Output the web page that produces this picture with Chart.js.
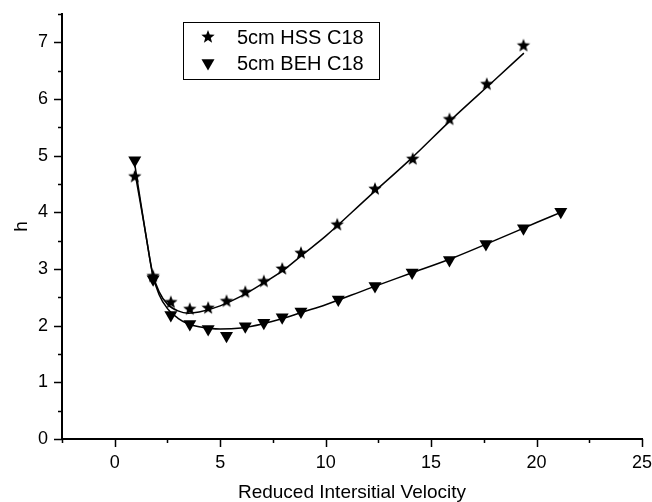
<!DOCTYPE html>
<html>
<head>
<meta charset="utf-8">
<script src="https://cdn.jsdelivr.net/npm/chart.js@4/dist/chart.umd.min.js"></script>
<style>
  html, body { margin: 0; padding: 0; background: #fff; }
  #wrap { width: 652px; height: 502px; }
</style>
</head>
<body>
<div id="wrap"><canvas id="c"></canvas></div>
<script>
// measured points (reduced velocity vs plate height h)
const velHSS = [0.95, 1.82, 2.66, 3.56, 4.43, 5.3, 6.19, 7.07, 7.94, 8.83, 10.55, 12.34, 14.13, 15.87, 17.64, 19.38];
const hHSS   = [4.63, 2.87, 2.41, 2.29, 2.31, 2.43, 2.59, 2.78, 3.0, 3.28, 3.78, 4.41, 4.94, 5.64, 6.26, 6.94];
const velBEH = [0.95, 1.82, 2.66, 3.56, 4.43, 5.3, 6.19, 7.07, 7.94, 8.83, 10.6, 12.34, 14.1, 15.87, 17.6, 19.38, 21.15];
const hBEH   = [4.92, 2.82, 2.19, 2.03, 1.94, 1.82, 1.99, 2.05, 2.15, 2.25, 2.46, 2.70, 2.94, 3.16, 3.44, 3.72, 4.01];

// fitted curves
const fitVelHSS = [0.95, 1.2, 1.5, 1.8, 2.1, 2.5, 3.0, 3.5, 4.0, 5, 6, 7, 8, 9, 10, 12, 14, 16, 18, 19.4];
const fitHSS    = [4.72, 4.2, 3.55, 2.92, 2.6, 2.38, 2.26, 2.22, 2.24, 2.35, 2.52, 2.74, 2.98, 3.28, 3.58, 4.26, 4.93, 5.65, 6.33, 6.81];
const fitVelBEH = [0.95, 1.2, 1.5, 1.8, 2.1, 2.5, 3.0, 3.5, 4.0, 5, 6, 7, 8, 9, 10, 12, 14, 16, 18, 20, 21.15];
const fitBEH    = [4.85, 4.25, 3.55, 2.9, 2.55, 2.3, 2.13, 2.03, 1.98, 1.94, 1.96, 2.03, 2.13, 2.25, 2.37, 2.65, 2.92, 3.19, 3.5, 3.82, 4.0];

const xTicks = [0, 5, 10, 15, 20, 25];
const yTicks = [0, 1, 2, 3, 4, 5, 6, 7];
const seriesNames = ['5cm HSS C18', '5cm BEH C18'];

const FONT = 'Liberation Sans, Arial, Helvetica, sans-serif';

function starImage(r) {
  const size = Math.ceil(r * 2) + 2;
  const cv = document.createElement('canvas');
  cv.width = size; cv.height = size;
  const g = cv.getContext('2d');
  g.fillStyle = '#000';
  g.beginPath();
  for (let i = 0; i < 10; i++) {
    const rad = i % 2 ? r * 0.42 : r;
    const a = -Math.PI / 2 + i * Math.PI / 5;
    const px = size / 2 + rad * Math.cos(a), py = size / 2 + rad * Math.sin(a);
    if (i) g.lineTo(px, py); else g.moveTo(px, py);
  }
  g.closePath();
  g.fill();
  return cv;
}
const star = starImage(7);

function toXY(xs, ys) { return xs.map((x, i) => ({ x, y: ys[i] })); }

function drawTriangleDown(ctx, x, y, r) {
  ctx.beginPath();
  ctx.moveTo(x - r * 0.866, y - r * 0.5);
  ctx.lineTo(x + r * 0.866, y - r * 0.5);
  ctx.lineTo(x, y + r);
  ctx.closePath();
  ctx.fill();
}

// minor/major ticks outside the axes + boxed legend
const decor = {
  id: 'decor',
  afterDraw(chart) {
    const { ctx, chartArea: a, scales } = chart;
    ctx.save();
    ctx.strokeStyle = '#000';
    ctx.lineWidth = 1.5;
    ctx.beginPath();
    for (let v = -2.5; v <= 25.001; v += 2.5) {
      const px = Math.round(scales.x.getPixelForValue(v)) + 0.5;
      const len = (Math.abs(v % 5) < 1e-6) ? 8 : 4;
      ctx.moveTo(px, a.bottom); ctx.lineTo(px, a.bottom + len);
    }
    for (let v = 0; v <= 7.5001; v += 0.5) {
      const py = Math.round(scales.y.getPixelForValue(v)) + 0.5;
      const len = (Math.abs(v % 1) < 1e-6) ? 8 : 4;
      ctx.moveTo(a.left, py); ctx.lineTo(a.left - len, py);
    }
    ctx.stroke();

    // legend
    const lx = a.left + 121, ly = a.top + 8, lw = 196, lh = 57;
    ctx.lineWidth = 1;
    ctx.strokeRect(lx + 0.5, ly + 0.5, lw, lh);
    ctx.fillStyle = '#000';
    ctx.font = '20px ' + FONT;
    ctx.textBaseline = 'middle';
    ctx.textAlign = 'left';
    const row1 = ly + 15, row2 = ly + 41;
    ctx.drawImage(star, lx + 25 - star.width / 2, row1 - star.height / 2);
    drawTriangleDown(ctx, lx + 25, row2, 7.5);
    ctx.fillText(seriesNames[0], lx + 54, row1 + 1);
    ctx.fillText(seriesNames[1], lx + 54, row2 + 1);
    ctx.restore();
  }
};

new Chart(document.getElementById('c'), {
  type: 'scatter',
  data: {
    datasets: [
      {
        label: seriesNames[0] + ' fit',
        data: toXY(fitVelHSS, fitHSS),
        showLine: true,
        borderColor: '#000',
        borderWidth: 1.5,
        pointRadius: 0,
        cubicInterpolationMode: 'monotone'
      },
      {
        label: seriesNames[1] + ' fit',
        data: toXY(fitVelBEH, fitBEH),
        showLine: true,
        borderColor: '#000',
        borderWidth: 1.5,
        pointRadius: 0,
        cubicInterpolationMode: 'monotone'
      },
      {
        label: seriesNames[0],
        data: toXY(velHSS, hHSS),
        pointStyle: star,
        pointRadius: 7,
        backgroundColor: '#000',
        borderColor: '#000'
      },
      {
        label: seriesNames[1],
        data: toXY(velBEH, hBEH),
        pointStyle: 'triangle',
        rotation: 180,
        pointRadius: 7.5,
        borderWidth: 0,
        backgroundColor: '#000',
        borderColor: '#000'
      }
    ]
  },
  options: {
    responsive: true,
    maintainAspectRatio: false,
    animation: false,
    events: [],
    layout: { padding: { top: 14, right: 10, left: 0, bottom: 0 } },
    plugins: { legend: { display: false }, tooltip: { enabled: false } },
    scales: {
      x: {
        type: 'linear',
        min: -2.5,
        max: 25,
        afterBuildTicks(scale) { scale.ticks = xTicks.map(v => ({ value: v })); },
        afterFit(scale) { scale.height = 63; scale.paddingLeft = 0; scale.paddingRight = 0; },
        grid: { display: false, drawTicks: false },
        border: { display: true, color: '#000', width: 2 },
        ticks: { color: '#000', padding: 13, font: { family: FONT, size: 18 }, maxRotation: 0 },
        title: {
          display: true,
          text: 'Reduced Intersitial Velocity',
          color: '#000',
          font: { family: FONT, size: 19, lineHeight: 1 },
          padding: { top: 0, bottom: 0 }
        }
      },
      y: {
        type: 'linear',
        min: 0,
        max: 7.5,
        afterBuildTicks(scale) { scale.ticks = yTicks.map(v => ({ value: v })); },
        afterFit(scale) { scale.width = 62; scale.paddingTop = 0; scale.paddingBottom = 0; },
        grid: { display: false, drawTicks: false },
        border: { display: true, color: '#000', width: 2 },
        ticks: { color: '#000', padding: 14, font: { family: FONT, size: 18 } },
        title: {
          display: true,
          text: 'h',
          color: '#000',
          font: { family: FONT, size: 19, lineHeight: 1 },
          padding: { top: 12, bottom: 0 }
        }
      }
    }
  },
  plugins: [decor]
});
</script>
</body>
</html>
